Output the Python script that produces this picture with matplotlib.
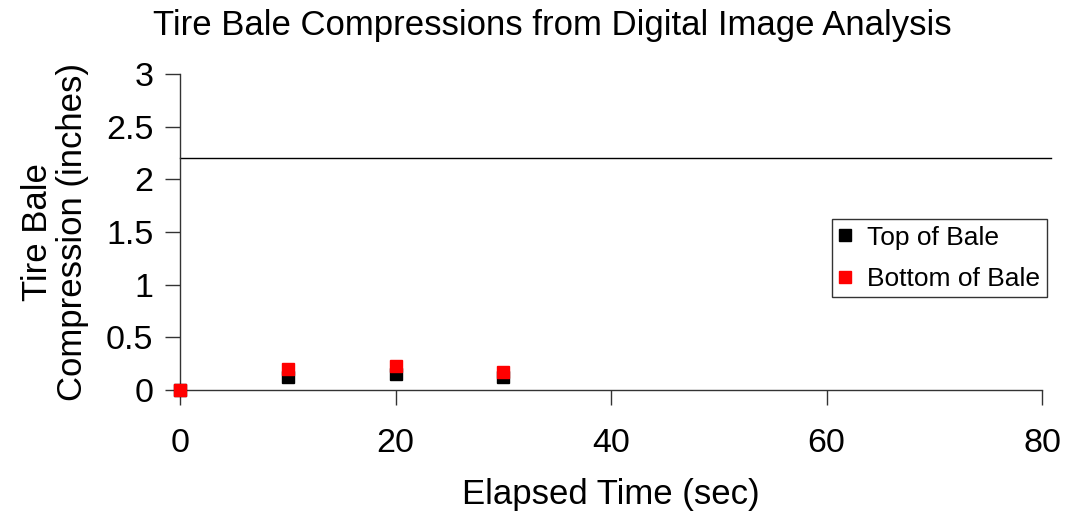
import numpy as np
import matplotlib.pyplot as plt
from matplotlib.ticker import FuncFormatter

plt.rcParams['font.family'] = ['Liberation Sans', 'DejaVu Sans']

# data
time_s = [0, 10, 20, 30]
top_of_bale = [0.0, 0.12, 0.15, 0.12]
bottom_of_bale = [0.0, 0.20, 0.23, 0.17]
limit_x = [0, 80.8]
limit_y = [2.2, 2.2]

fig = plt.figure(figsize=(10.67, 5.21), dpi=100)
ax = fig.add_axes([0.1687, 0.2514, 0.8079, 0.6066])

ax.plot(limit_x, limit_y, color='black', lw=1, clip_on=False)
ax.plot(time_s, top_of_bale, 's', color='black', ms=8.5, label='Top of Bale', clip_on=False, zorder=3)
ax.plot(time_s, bottom_of_bale, 's', color='red', ms=8.5, label='Bottom of Bale', clip_on=False, zorder=4)

ax.set_xlim(0, 80)
ax.set_ylim(0, 3)
ax.set_xticks([0, 20, 40, 60, 80])
ax.set_yticks(np.arange(0, 3.01, 0.5))
ax.yaxis.set_major_formatter(FuncFormatter(lambda v, p: '%g' % v))

for s in ['top', 'right']:
    ax.spines[s].set_visible(False)
for s in ['left', 'bottom']:
    ax.spines[s].set_color('#333333')
    ax.spines[s].set_linewidth(1)

ax.tick_params(axis='both', direction='out', length=11, width=1, color='#333333',
               labelsize=24.5)
ax.tick_params(axis='x', pad=16)
ax.tick_params(axis='y', pad=8)

fig.text(0.518, 0.952, 'Tire Bale Compressions from Digital Image Analysis',
         fontsize=25, ha='center', va='center')
ax.set_xlabel('Elapsed Time (sec)', fontsize=25, labelpad=14)
ax.set_ylabel('Tire Bale\nCompression (inches)', fontsize=25, labelpad=12, linespacing=1.1)

leg = ax.legend(loc='upper left', bbox_to_anchor=(0.756, 0.541), fontsize=19, frameon=True,
                fancybox=False, edgecolor='black', handlelength=0.5, handletextpad=0.6,
                borderpad=0.25, labelspacing=0.65, borderaxespad=0)
leg.get_frame().set_linewidth(1)

fig.savefig('out.png', dpi=100)
